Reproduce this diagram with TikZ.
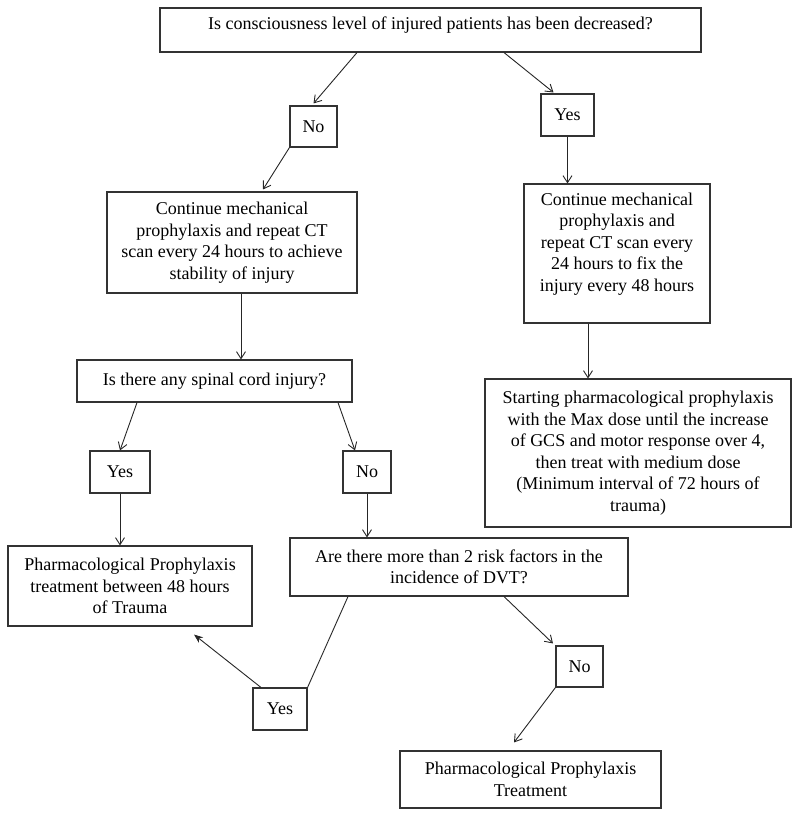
\documentclass[tikz,border=0pt]{standalone}
\usepackage{fontspec}
\setmainfont{Liberation Serif}
\usetikzlibrary{arrows.meta}
\begin{document}
\begin{tikzpicture}[x=1pt,y=-1pt,
  box/.style={draw=black!80, line width=1.1pt, inner sep=0pt, align=center,
    font=\fontsize{18}{21.5}\selectfont},
  txt/.style={inner sep=0pt, align=center, font=\fontsize{18}{21.5}\selectfont},
  arr/.style={draw=black!85, line width=0.9pt, -{Straight Barb[length=7pt,width=9pt]}},
  ln/.style={draw=black!85, line width=0.9pt}]
\useasboundingbox (0,0) rectangle (792,814);
% boxes
\node[box, minimum width=541, minimum height=44] (q1) at (430.5,30) {};
\node[txt] (q1t) at (430.5,25) {Is consciousness level of injured patients has been decreased?};
\node[box, minimum width=47, minimum height=41] (no1) at (313.5,126.5) {No};
\node[box, minimum width=53, minimum height=42] (yes1) at (567.5,115) {Yes};
\node[box, minimum width=250, minimum height=101] (L1) at (232,242.5)
  {Continue mechanical\\ prophylaxis and repeat CT\\ scan every 24 hours to achieve\\ stability of injury};
\node[box, minimum width=186, minimum height=139] (R1) at (617,253.5) {};
\node[txt] (R1t) at (617,244) {Continue mechanical\\ prophylaxis and\\ repeat CT scan every\\ 24 hours to fix the\\ injury every 48 hours};
\node[box, minimum width=275, minimum height=42] (sp) at (214.5,381) {Is there any spinal cord injury?};
\node[box, minimum width=306, minimum height=148] (R2) at (638,453)
  {Starting pharmacological prophylaxis\\ with the Max dose until the increase\\ of GCS and motor response over 4,\\ then treat with medium dose\\ (Minimum interval of 72 hours of\\ trauma)};
\node[box, minimum width=60, minimum height=42] (yes2) at (120,472) {Yes};
\node[box, minimum width=48, minimum height=42] (no2) at (367,472) {No};
\node[box, minimum width=244, minimum height=80] (P1) at (130,586)
  {Pharmacological Prophylaxis\\ treatment between 48 hours\\ of Trauma};
\node[box, minimum width=338, minimum height=58] (dvt) at (459,567)
  {Are there more than 2 risk factors in the\\ incidence of DVT?};
\node[box, minimum width=54, minimum height=42] (yes3) at (280,709) {Yes};
\node[box, minimum width=47, minimum height=41] (no3) at (579.5,666.5) {No};
\node[box, minimum width=261, minimum height=57] (fin) at (530.5,779.5)
  {Pharmacological Prophylaxis\\ Treatment};
% connectors
\draw[arr] ([xshift=-73.5]q1.south) -- ([yshift=2]no1.north);
\draw[arr] ([xshift=73.5]q1.south) -- ([xshift=-14,yshift=1]yes1.north);
\draw[arr] (yes1.south) -- (yes1.south |- R1.north);
\draw[arr] (no1.south west) -- ([xshift=31,yshift=2]L1.north);
\draw[arr] ([xshift=9]L1.south) -- ([xshift=9]L1.south |- sp.north);
\draw[arr] ([xshift=-29]R1.south) -- ([xshift=-29]R1.south |- R2.north);
\draw[arr] ([xshift=-77.5]sp.south) -- (yes2.north);
\draw[arr] ([xshift=123.5]sp.south) -- ([xshift=-12]no2.north);
\draw[arr] (yes2.south) -- (yes2.south |- P1.north);
\draw[arr] (no2.south) -- (no2.south |- dvt.north);
\draw[ln] ([xshift=-111]dvt.south) -- (yes3.north east);
\draw[draw=black!85, line width=0.9pt, -{Stealth[length=9pt,width=7pt]}] ([xshift=-19]yes3.north) -- ([xshift=64,yshift=-8]P1.south);
\draw[arr] ([xshift=45]dvt.south) -- ([xshift=-26.5,yshift=2]no3.north);
\draw[arr] (no3.south west) -- ([xshift=-16.5,yshift=8]fin.north);
\end{tikzpicture}
\end{document}
